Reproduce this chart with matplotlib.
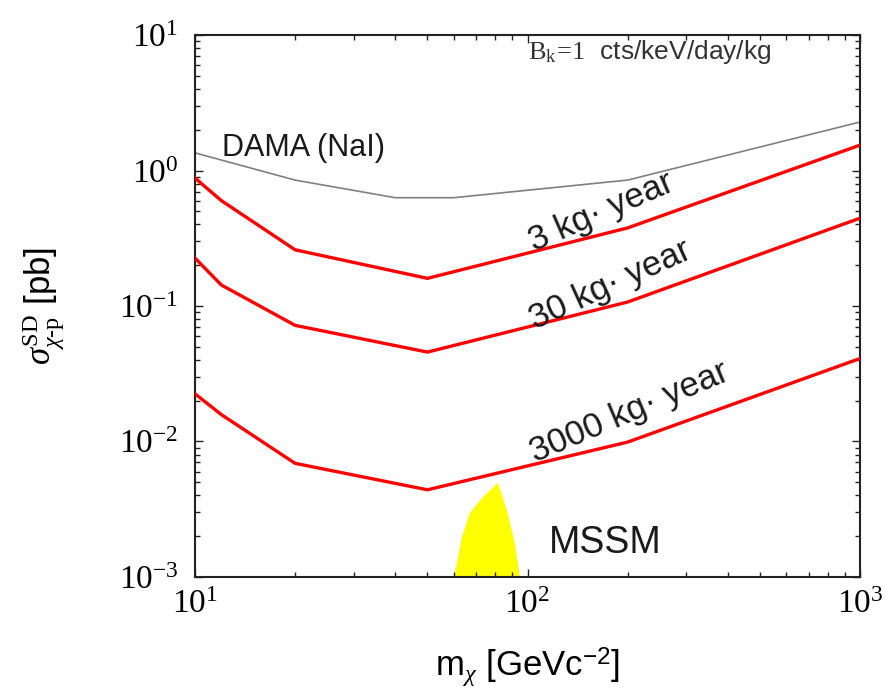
import matplotlib
matplotlib.use("Agg")
import matplotlib.pyplot as plt
from matplotlib.ticker import LogLocator, NullFormatter, FixedLocator

plt.rcParams['font.family'] = ['Liberation Sans', 'DejaVu Sans']
plt.rcParams['mathtext.fontset'] = 'custom'
plt.rcParams['mathtext.rm'] = 'Liberation Serif'
plt.rcParams['mathtext.it'] = 'Liberation Serif:italic'
plt.rcParams['mathtext.sf'] = 'Liberation Sans'
plt.rcParams['mathtext.bf'] = 'Liberation Serif:bold'

# ---- data ----
dama_x = [10, 20, 40, 60, 200, 1000]
dama_y = [1.35, 0.85, 0.63, 0.63, 0.85, 2.28]

mass_x = [10, 12, 20, 50, 200, 1000]
kg3_y = [0.88, 0.60, 0.26, 0.16, 0.377, 1.54]
kg30_y = [0.226, 0.143, 0.072, 0.0457, 0.107, 0.445]
kg3000_y = [0.0225, 0.0158, 0.0069, 0.0044, 0.0099, 0.041]

mssm_x = [59.7, 63.5, 67.1, 73.5, 81.5, 86.7, 91.6, 95.5]
mssm_y = [0.0009, 0.00197, 0.00297, 0.0039, 0.00494, 0.00312, 0.00178, 0.0009]

xticks = [10, 100, 1000]
xticklabels = [r'$10^{1}$', r'$10^{2}$', r'$10^{3}$']
yticks = [1e-3, 1e-2, 1e-1, 1, 10]
yticklabels = [r'$10^{-3}$', r'$10^{-2}$', r'$10^{-1}$', r'$10^{0}$', r'$10^{1}$']

fig = plt.figure(figsize=(8.85, 6.91), dpi=100)
ax = fig.add_axes([0.2203, 0.165, 0.7515, 0.7843])

ax.fill(mssm_x, mssm_y, color='#ffff00', lw=0, zorder=1)
ax.plot(dama_x, dama_y, color='#808080', lw=1.2, zorder=2)
for ys in (kg3_y, kg30_y, kg3000_y):
    ax.plot(mass_x, ys, color='#ff0000', lw=2.4, zorder=3)

ax.set_xscale('log')
ax.set_yscale('log')
ax.set_xlim(10, 1000)
ax.set_ylim(1e-3, 10)

ax.xaxis.set_major_locator(FixedLocator(xticks))
ax.yaxis.set_major_locator(FixedLocator(yticks))
ax.set_xticklabels(xticklabels)
ax.set_yticklabels(yticklabels)
ax.xaxis.set_minor_locator(LogLocator(base=10, subs=range(2, 10)))
ax.yaxis.set_minor_locator(LogLocator(base=10, subs=range(2, 10)))
ax.xaxis.set_minor_formatter(NullFormatter())
ax.yaxis.set_minor_formatter(NullFormatter())
ax.tick_params(which='both', direction='in', top=True, right=True, width=1.0, color='#222222')
ax.tick_params(which='major', length=6, labelsize=24)
ax.tick_params(which='minor', length=3.5)
ax.tick_params(axis='x', which='major', pad=9)
ax.tick_params(axis='y', which='major', pad=12)
for s in ax.spines.values():
    s.set_linewidth(1.5)
    s.set_color('#222222')

ax.set_xlabel(r'm$_{\chi}$ [GeVc$^{\mathsf{-2}}$]', fontsize=25, labelpad=18)
ax.set_ylabel(r'$\sigma^{\mathrm{SD}}_{\chi\mathrm{\text{-}p}}$ [pb]', fontsize=25, labelpad=38)

ax.text(12.1, 1.47, 'DAMA (NaI)', fontsize=22, ha='left', va='center', color='#1a1a1a')
ax.text(167, 0.49, '3 kg· year', fontsize=25, rotation=23.5,
        ha='center', va='center', rotation_mode='anchor', color='#1a1a1a')
ax.text(178, 0.143, '30 kg· year', fontsize=25, rotation=24.5,
        ha='center', va='center', rotation_mode='anchor', color='#1a1a1a')
ax.text(203, 0.0165, '3000 kg· year', fontsize=25, rotation=23,
        ha='center', va='center', rotation_mode='anchor', color='#1a1a1a')
ax.text(171, 0.00178, 'MSSM', fontsize=27, ha='center', va='center', color='#1a1a1a')
ax.text(0.50, 0.968, r'$\mathrm{B_k\!=\!1}$  cts/keV/day/kg', fontsize=19,
        transform=ax.transAxes, ha='left', va='center', color='#333333')

fig.savefig('out.png', dpi=100)
